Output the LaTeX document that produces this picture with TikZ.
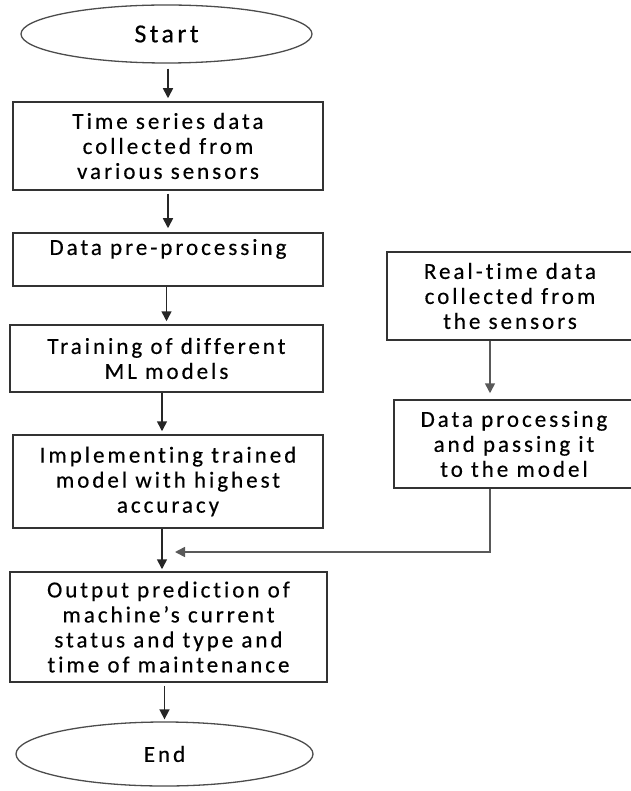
\documentclass[tikz,border=0pt]{standalone}
\usepackage{fontspec}
\setmainfont{Carlito}[LetterSpace=13,FakeBold=0.4,Ligatures=NoCommon]
\usetikzlibrary{positioning}
\usetikzlibrary{shapes.geometric,arrows.meta}

\begin{document}
\begin{tikzpicture}
    [%%%%%%%%%%%%%%%%%%%%%%%%%%%%%%
        x=1pt,y=-1pt,
        box/.style={rectangle,draw=black!80,line width=1.5pt,minimum width=310pt,
                    inner sep=0pt,align=center,font=\fontsize{23}{25}\selectfont},
        term/.style={ellipse,draw=black!70,line width=1.3pt,inner sep=0pt},
        arr/.style={-{Triangle[width=10pt,length=10pt]},line width=1.6pt,draw=black!85},
        feed/.style={arr,draw=black!65}
    ]%%%%%%%%%%%%%%%%%%%%%%%%%%%%%%
\useasboundingbox (0,0) rectangle (630,791);

\node[term,minimum width=291pt,minimum height=58pt,font=\fontsize{26}{28}\selectfont] (start) at (166.5,34) {Start};

\node[box,minimum height=88pt] (series) at (168,146) {Time series data\\collected from\\various sensors};

\node[box,minimum height=53pt] (prep) at (168,259.5) {Data pre-processing\\\mbox{}};

\node[box,minimum width=313pt,minimum height=67pt] (train) at (166.5,358.5) {Training of different\\ML models};

\node[box,minimum height=93pt] (impl) at (168,481.5) {Implementing trained\\model with highest\\accuracy};

\node[box,minimum width=317pt,minimum height=110pt] (output) at (168.5,627) {Output prediction of\\machine’s current\\status and type and\\time of maintenance};

\node[term,minimum width=297pt,minimum height=64pt,font=\fontsize{23}{25}\selectfont] (end) at (164.5,754) {End};

% real-time branch
\node[box,minimum width=246pt,minimum height=88pt] (realtime) at (510,296) {Real-time data\\collected from\\the sensors};

\node[box,minimum width=240pt,minimum height=88pt] (dproc) at (514,444) {Data processing\\and passing it\\to the model};

\coordinate (bend) at (490,552);
\coordinate (join) at (175,552);

\draw [arr,shorten <=5pt,shorten >=3pt] (start.south -| series) -- (series.north);
\draw [arr,shorten <=3pt,shorten >=4pt] (series.south) -- (prep.north);
\draw [arr,shorten >=3pt] (prep.south -| train) -- (train.north);
\draw [arr,shorten >=3pt] ([xshift=-4.5pt]train.south) -- ([xshift=-4.5pt]train.south |- impl.north);
\draw [arr,shorten >=2pt] ([xshift=-6pt]impl.south) -- ([xshift=-6pt]impl.south |- output.north);
\draw [arr,shorten <=3pt,shorten >=2pt] (output.south -| end) -- (end.north);

\draw [feed,shorten >=6pt] (realtime.south -| bend) -- (dproc.north -| bend);
\draw [feed] (dproc.south -| bend) -- (bend) -- (join);

\end{tikzpicture}
\end{document}
